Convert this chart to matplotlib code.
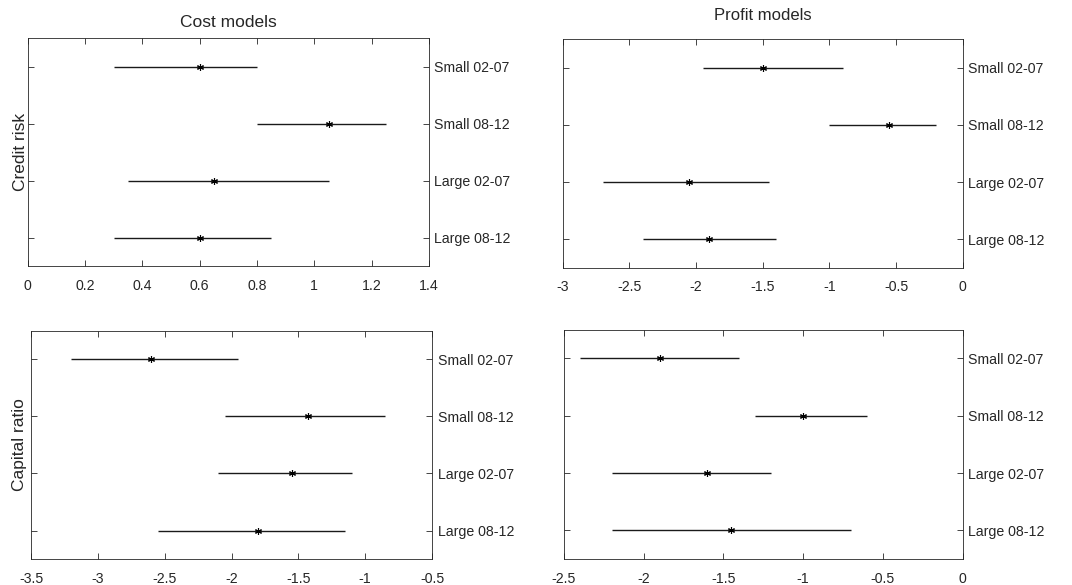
import numpy as np
import matplotlib.pyplot as plt

plt.rcParams['font.family'] = ['Liberation Sans', 'DejaVu Sans']

groups = ['Small 02-07', 'Small 08-12', 'Large 02-07', 'Large 08-12']

# оценки и интервалы
cost_credit = [0.6, 1.05, 0.65, 0.6]
cost_credit_lo = [0.3, 0.8, 0.35, 0.3]
cost_credit_hi = [0.8, 1.25, 1.05, 0.85]

profit_credit = [-1.5, -0.55, -2.05, -1.9]
profit_credit_lo = [-1.95, -1.0, -2.7, -2.4]
profit_credit_hi = [-0.9, -0.2, -1.45, -1.4]

cost_capital = [-2.6, -1.43, -1.55, -1.8]
cost_capital_lo = [-3.2, -2.05, -2.1, -2.55]
cost_capital_hi = [-1.95, -0.85, -1.1, -1.15]

profit_capital = [-1.9, -1.0, -1.6, -1.45]
profit_capital_lo = [-2.4, -1.3, -2.2, -2.2]
profit_capital_hi = [-1.4, -0.6, -1.2, -0.7]

xlims = [(0, 1.4), (-3, 0), (-3.5, -0.5), (-2.5, 0)]
xticks = [np.arange(0, 1.41, 0.2), np.arange(-3, 0.01, 0.5),
          np.arange(-3.5, -0.49, 0.5), np.arange(-2.5, 0.01, 0.5)]

panels = [(cost_credit, cost_credit_lo, cost_credit_hi),
          (profit_credit, profit_credit_lo, profit_credit_hi),
          (cost_capital, cost_capital_lo, cost_capital_hi),
          (profit_capital, profit_capital_lo, profit_capital_hi)]

rects = [[0.026, 0.545, 0.374, 0.390], [0.525, 0.542, 0.373, 0.391],
         [0.029, 0.0444, 0.374, 0.390], [0.526, 0.0444, 0.372, 0.392]]

edge = '#262626'
fig = plt.figure(figsize=(10.72, 5.85), dpi=100)
y = np.arange(1, len(groups) + 1)
for i, ((est, lo, hi), r) in enumerate(zip(panels, rects)):
    ax = fig.add_axes(r)
    est, lo, hi = np.array(est), np.array(lo), np.array(hi)
    ax.errorbar(est, y, xerr=[est - lo, hi - est], fmt='none', ecolor='#1a1a1a', elinewidth=1, capsize=0)
    ax.plot(est, y, ls='none', marker=(6, 2, 0), ms=5, mew=0.8, color='black')
    ax.set_ylim(4.5, 0.5)
    ax.set_xlim(*xlims[i])
    ax.set_xticks(xticks[i])
    ax.set_xticklabels(['%g' % round(v, 2) for v in xticks[i]])
    ax.set_yticks(y)
    ax.set_yticklabels(groups)
    ax.tick_params(direction='in', length=4, width=0.6, colors=edge, labelsize=10.2,
                   top=True, right=True, left=True, labelleft=False, labelright=True)
    ax.tick_params(axis='y', pad=4)
    ax.tick_params(axis='x', pad=9)
    for s in ax.spines.values():
        s.set_color(edge)
        s.set_linewidth(0.6)
    if i == 0:
        ax.set_title('Cost models', fontsize=12.5, color=edge, pad=8)
        ax.set_ylabel('Credit risk', fontsize=12.5, color=edge, labelpad=0)
    if i == 1:
        ax.set_title('Profit models', fontsize=12, color=edge, pad=14)
    if i == 2:
        ax.set_ylabel('Capital ratio', fontsize=12.5, color=edge, labelpad=3)

fig.savefig('out.png', dpi=100)
